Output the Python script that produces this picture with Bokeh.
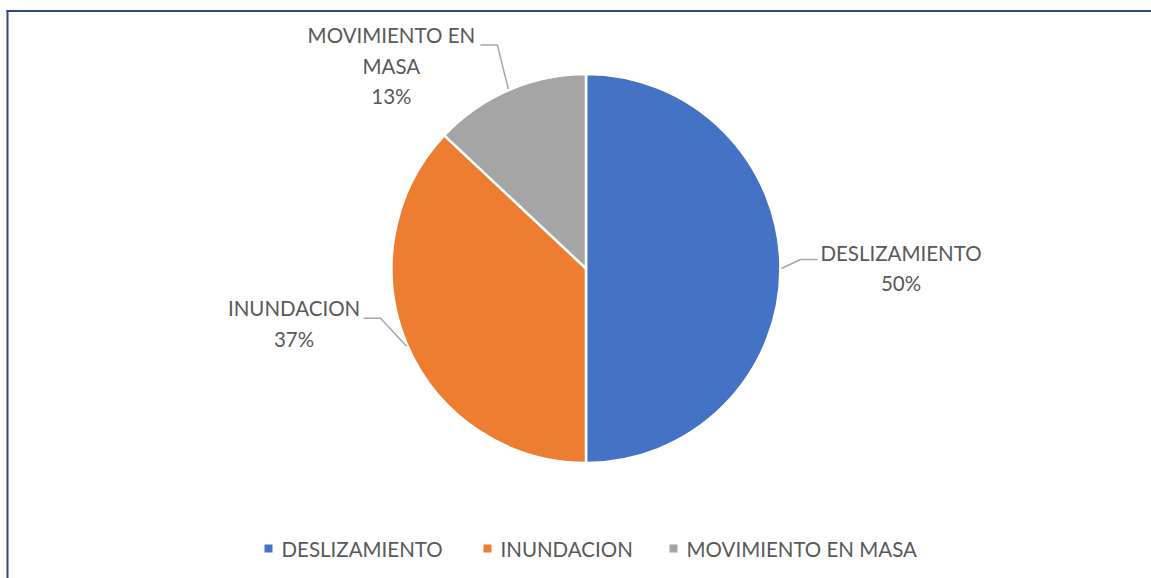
import math
from bokeh.plotting import figure
from bokeh.models import Range1d
from bokeh.core.properties import value
from bokeh.embed import file_html
from bokeh.resources import INLINE

# ---- data ----
categories = ["DESLIZAMIENTO", "INUNDACION", "MOVIMIENTO EN MASA"]
percents = [50, 37, 13]
colors = ["#4472C4", "#ED7D31", "#A5A5A5"]
label_lines = [["DESLIZAMIENTO"], ["INUNDACION"], ["MOVIMIENTO EN", "MASA"]]

# ---- layout ----
W, H = 1151, 578
CX, CY = 585.5, H - 268
R = 194.5
FONT = "Lato"
FSIZE = "20.5px"
TXT = "#595959"
LEADER = "#A6A6A6"
# leader elbow offsets from slice edge (screen px, +x right, +y down)
elbow_off = [(19, -9), (-26, -28), (-11, -44)]
horiz_dir = [1, -1, -1]
horiz_len = 17
text_off = [(83.5, -7), (-69.5, -10), (-89, -10)]
line_step = 30.5
legend_marker_x = [268, 487, 673]
legend_y = H - 548

p = figure(width=W, height=H, x_range=Range1d(0, W), y_range=Range1d(0, H),
           output_backend="svg", toolbar_location=None, min_border=0)
p.axis.visible = False
p.grid.visible = False
p.outline_line_color = None
p.background_fill_color = "white"
p.border_fill_color = "white"

total = sum(percents)
cum = 0
for cat, pct, col, lines, eo, hd, to in zip(categories, percents, colors, label_lines,
                                            elbow_off, horiz_dir, text_off):
    a0 = math.pi / 2 - 2 * math.pi * cum / total
    cum += pct
    a1 = math.pi / 2 - 2 * math.pi * cum / total
    p.wedge(x=CX, y=CY, radius=R, start_angle=a0, end_angle=a1, direction="clock",
            fill_color=col, line_color="white", line_width=2.5)
    mid = (a0 + a1) / 2
    ex = CX + (R + 1) * math.cos(mid)
    ey = CY + (R + 1) * math.sin(mid)
    bx = ex + eo[0]
    by = ey - eo[1]
    hx = bx + hd * horiz_len
    p.line([ex, bx, hx], [ey, by, by], line_color=LEADER, line_width=1.5)
    tx = hx + to[0]
    ty = by - to[1]
    all_lines = lines + [f"{pct}%"]
    for i, t in enumerate(all_lines):
        p.text(x=[tx], y=[ty - i * line_step], text=[t], text_font=value(FONT),
               text_font_size=FSIZE, text_color=TXT, text_align="center",
               text_baseline="middle")

# legend
for cat, col, mx in zip(categories, colors, legend_marker_x):
    p.scatter(x=[mx], y=[legend_y], marker="square", size=8, fill_color=col, line_color=None)
    p.text(x=[mx + 13], y=[legend_y], text=[cat], text_font=value(FONT),
           text_font_size=FSIZE, text_color=TXT, text_align="left", text_baseline="middle")

# chart border (left and top)
p.line([7, 7], [0, H - 10], line_color="#2F4B7C", line_width=2)
p.line([6, W], [H - 10.5, H - 10.5], line_color="#2F4B7C", line_width=2)

open("out.html", "w").write(file_html(p, INLINE))
